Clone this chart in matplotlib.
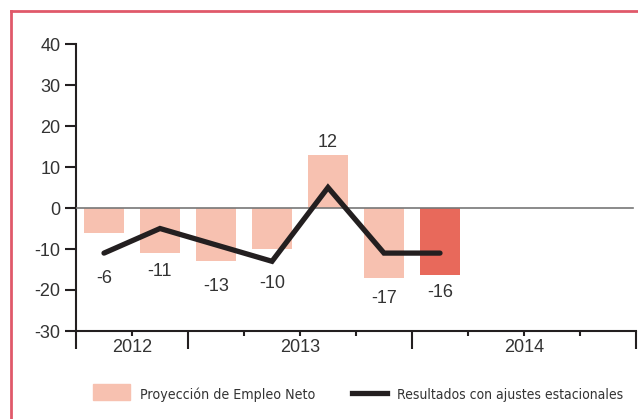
import matplotlib
matplotlib.use("Agg")
import matplotlib.pyplot as plt
from matplotlib import font_manager
from matplotlib.transforms import Affine2D
from matplotlib.patches import Rectangle
from matplotlib.lines import Line2D

# ---- data ----
bar_values = [-6, -11, -13, -10, 12.9, -17, -16.4]
bar_labels = ["-6", "-11", "-13", "-10", "12", "-17", "-16"]
line_values = [-11, -5, -9, -13, 5, -11, -11]
years = ["2012", "2013", "2014"]
year_quarters = [2, 4, 4]          # quarters shown per year
yticks = [-30, -20, -10, 0, 10, 20, 30, 40]
legend_labels = ["Proyección de Empleo Neto", "Resultados con ajustes estacionales"]

# ---- style ----
light = "#F7C1B0"
dark = "#E8695B"
line_col = "#231F20"
text_col = "#333333"
border_col = "#E0596A"
FS = 13

plt.rcParams["font.family"] = ["Liberation Sans", "DejaVu Sans"]

# condensed face for the legend, if one is installed
cond = [f for f in font_manager.fontManager.ttflist
        if f.stretch in ("condensed", "semi-condensed", "extra-condensed")
        and f.weight in (400, "normal", "regular", "book") and f.style == "normal"]
cond_family = None
for pref in ("Open Sans", "Roboto", "Noto Sans", "DejaVu Sans", "Liberation Sans"):
    for f in cond:
        if f.name == pref:
            cond_family = f
            break
    if cond_family:
        break
if cond_family is None and cond:
    cond_family = cond[0]

W, H = 638, 419
fig = plt.figure(figsize=(W / 100, H / 100), dpi=100)
px = Affine2D().scale(1 / W, -1 / H).translate(0, 1) + fig.transFigure

ax = fig.add_axes([76 / W, 1 - 331 / H, (636 - 76) / W, (331 - 44) / H])
n_slots = sum(year_quarters)
ax.set_xlim(0, n_slots)
ax.set_ylim(-30, 40)

xs = [i + 0.5 for i in range(len(bar_values))]
colors = [light] * (len(bar_values) - 1) + [dark]
ax.bar(xs, bar_values, width=0.73, color=colors, zorder=2)
ax.axhline(0, xmin=0, xmax=0.995, color="#777777", lw=1.2, zorder=3)
ax.plot(xs, line_values, color=line_col, lw=3.8, solid_capstyle="round",
        solid_joinstyle="miter", zorder=4)

# data labels: baseline offsets (points) from the bar end
label_offsets = [-36, -16.6, -21.2, -28.4, 5.5, -18.5, -15.8]
for x, v, lab, off in zip(xs, bar_values, bar_labels, label_offsets):
    ax.annotate(lab, (x, v), xytext=(0, off), textcoords="offset points",
                ha="center", va="baseline", fontsize=FS, color=text_col)

# spines
for s in ["top", "right"]:
    ax.spines[s].set_visible(False)
for s in ["left", "bottom"]:
    ax.spines[s].set_color(line_col)
    ax.spines[s].set_linewidth(1.5)

ax.set_yticks(yticks)
ax.set_yticklabels([str(t) for t in yticks])
ax.tick_params(axis="y", length=8, width=1.5, color=line_col, labelsize=FS,
               labelcolor=text_col, pad=3.2)

# x ticks: long at year boundaries, short at quarters
bounds = [0]
for q in year_quarters:
    bounds.append(bounds[-1] + q)
ax.set_xticks(bounds)
ax.set_xticklabels([])
ax.set_xticks([i for i in range(n_slots + 1) if i not in bounds], minor=True)
ax.tick_params(axis="x", which="major", length=12.7, width=1.5, color=line_col)
ax.tick_params(axis="x", which="minor", length=3.5, width=1.5, color=line_col)
for yr, a, b in zip(years, bounds[:-1], bounds[1:]):
    ax.annotate(yr, ((a + b) / 2, -30), xytext=(0, -15.2), textcoords="offset points",
                ha="center", va="baseline", fontsize=FS, color=text_col)

# legend (manual)
fig.patches.append(Rectangle((93, 384), 37, 16, transform=px, color=light))
fig.lines.append(Line2D([352, 387], [392.5, 392.5], transform=px, color=line_col, lw=3.8))
kw = dict(transform=px, ha="left", va="baseline", fontsize=12, color=text_col)
if cond_family is not None:
    kw["fontproperties"] = font_manager.FontProperties(fname=cond_family.fname, size=12)
t1 = fig.text(140, 398.5, legend_labels[0], **kw)
t2 = fig.text(397, 398.5, legend_labels[1], **kw)
r = fig.canvas.get_renderer()
for t, target in ((t1, 174), (t2, 226)):
    w = t.get_window_extent(r).width
    t.set_fontsize(12 * target / w)

# border frame
fig.lines.append(Line2D([11, W + 5], [11, 11], transform=px, color=border_col, lw=2))
fig.lines.append(Line2D([11, 11], [11, H + 5], transform=px, color=border_col, lw=2))

fig.savefig("out.png", dpi=100)
